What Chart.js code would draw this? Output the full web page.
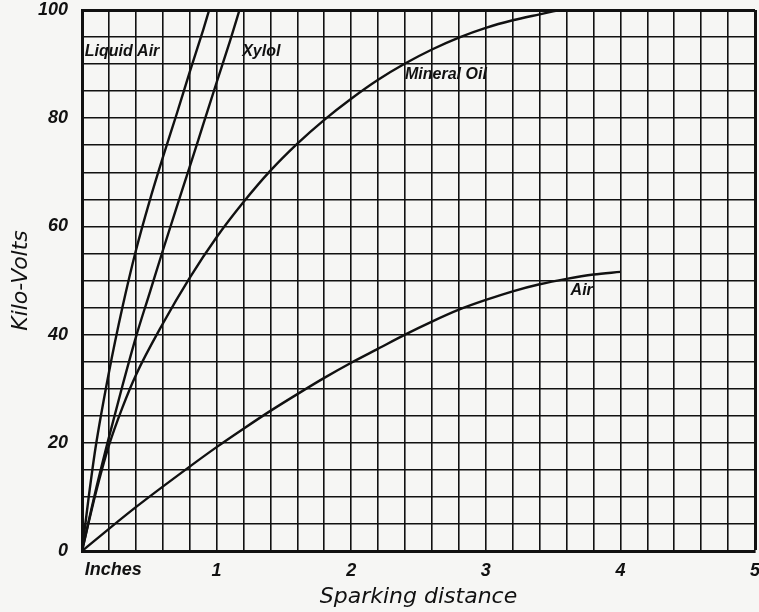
<!DOCTYPE html>
<html>
<head>
<meta charset="utf-8">
<script src="https://cdn.jsdelivr.net/npm/chart.js@4"></script>
<style>
  html, body { margin: 0; padding: 0; background: #f6f6f4; }
  #wrap { width: 759px; height: 612px; }
</style>
</head>
<body>
<div id="wrap"><canvas id="chart" width="759" height="612"></canvas></div>
<script>
// sparking distance in inches, kilo-volts
const liquidAirX = [0, 0.05, 0.1, 0.2, 0.3, 0.4, 0.5, 0.6, 0.7, 0.8, 0.9, 0.945];
const liquidAirY = [0, 10, 19, 33, 45, 55.5, 64.5, 72.7, 80.5, 88.5, 96.3, 100];

const xylolX = [0, 0.1, 0.2, 0.3, 0.4, 0.5, 0.6, 0.7, 0.8, 0.9, 1.0, 1.1, 1.17];
const xylolY = [0, 11, 21, 30.5, 39.5, 47.5, 55.5, 63.3, 71, 78.8, 86.6, 94.3, 100];

const mineralOilX = [0, 0.1, 0.2, 0.3, 0.4, 0.6, 0.8, 1.0, 1.2, 1.4, 1.6, 1.8, 2.0, 2.2, 2.4, 2.6, 2.8, 3.0, 3.2, 3.4, 3.55];
const mineralOilY = [0, 10.5, 19.5, 26.5, 32.5, 42, 50.5, 58, 64.5, 70.3, 75.3, 79.7, 83.6, 87.1, 90.1, 92.7, 94.9, 96.7, 98.1, 99.2, 100];

const airX = [0, 0.2, 0.4, 0.6, 0.8, 1.0, 1.2, 1.4, 1.6, 1.8, 2.0, 2.2, 2.4, 2.6, 2.8, 3.0, 3.2, 3.4, 3.6, 3.8, 4.0];
const airY = [0, 4.1, 8.1, 11.9, 15.6, 19.2, 22.6, 25.9, 29.0, 32.0, 34.8, 37.4, 40, 42.4, 44.6, 46.4, 48, 49.3, 50.3, 51.1, 51.6];

// curve names written on the plot, placed in data units
const curveNames = ['Liquid Air', 'Xylol', 'Mineral Oil', 'Air'];
const nameX = [0.02, 1.19, 2.4, 3.63];
const nameY = [92.4, 92.4, 88, 48.2];

const ink = '#111111';
const tickFont = { family: 'Liberation Sans', size: 18, style: 'italic', weight: 'bold' };
const titleFont = { family: 'DejaVu Sans', size: 22, style: 'italic' };

function pts(xs, ys) {
  return xs.map((x, i) => ({ x: x, y: ys[i] }));
}

function curve(label, xs, ys) {
  return {
    label: label,
    data: pts(xs, ys),
    borderColor: ink,
    borderWidth: 2.4,
    pointRadius: 0,
    fill: false,
    cubicInterpolationMode: 'monotone'
  };
}

const paper = {
  id: 'paper',
  beforeDraw(chart) {
    const c = chart.ctx;
    c.save();
    c.fillStyle = '#f6f6f4';
    c.fillRect(0, 0, chart.width, chart.height);
    c.restore();
  }
};

const names = {
  id: 'names',
  afterDraw(chart) {
    const c = chart.ctx;
    const xs = chart.scales.x, ys = chart.scales.y;
    c.save();
    c.fillStyle = ink;
    c.font = 'italic bold 16px "Liberation Sans"';
    c.textBaseline = 'middle';
    c.textAlign = 'left';
    curveNames.forEach((n, i) => {
      c.fillText(n, xs.getPixelForValue(nameX[i]), ys.getPixelForValue(nameY[i]));
    });
    // unit word under the origin
    c.font = 'italic bold 18px "Liberation Sans"';
    c.fillText('Inches', xs.getPixelForValue(0.02), xs.bottom - 42);
    c.restore();
  }
};

new Chart(document.getElementById('chart'), {
  type: 'line',
  data: {
    datasets: [
      curve('Liquid Air', liquidAirX, liquidAirY),
      curve('Xylol', xylolX, xylolY),
      curve('Mineral Oil', mineralOilX, mineralOilY),
      curve('Air', airX, airY)
    ]
  },
  options: {
    responsive: false,
    animation: false,
    layout: { padding: { top: 10, right: 4, left: 0, bottom: 0 } },
    plugins: {
      legend: { display: false },
      tooltip: { enabled: false }
    },
    scales: {
      x: {
        type: 'linear',
        min: 0,
        max: 5,
        afterFit(s) {
          s.height = 61;
          s.paddingLeft = 0;
          s.paddingRight = 0;
        },
        ticks: {
          stepSize: 0.2,
          autoSkip: false,
          maxRotation: 0,
          padding: 9,
          color: ink,
          font: tickFont,
          callback(v) {
            const r = Math.round(v);
            return (Math.abs(v - r) < 1e-6 && r > 0) ? String(r) : '';
          }
        },
        grid: {
          color: ink,
          drawTicks: false,
          lineWidth(ctx) { return (ctx.tick && Math.abs(ctx.tick.value - 5) < 1e-6) ? 3 : 1.6; }
        },
        border: { color: ink, width: 3 },
        title: {
          display: true,
          text: 'Sparking distance',
          color: ink,
          font: titleFont,
          padding: { top: 0, bottom: 2 }
        }
      },
      y: {
        min: 0,
        max: 100,
        afterFit(s) {
          s.width = 82;
          s.paddingTop = 0;
          s.paddingBottom = 0;
        },
        ticks: {
          stepSize: 5,
          autoSkip: false,
          padding: 14,
          color: ink,
          font: tickFont,
          callback(v) { return v % 20 === 0 ? String(v) : ''; }
        },
        grid: {
          color: ink,
          drawTicks: false,
          lineWidth(ctx) { return (ctx.tick && ctx.tick.value === 100) ? 3 : 1.6; }
        },
        border: { color: ink, width: 3 },
        title: {
          display: true,
          text: 'Kilo-Volts',
          color: ink,
          font: titleFont,
          padding: { top: 8, bottom: 0 }
        }
      }
    }
  },
  plugins: [paper, names]
});
</script>
</body>
</html>
